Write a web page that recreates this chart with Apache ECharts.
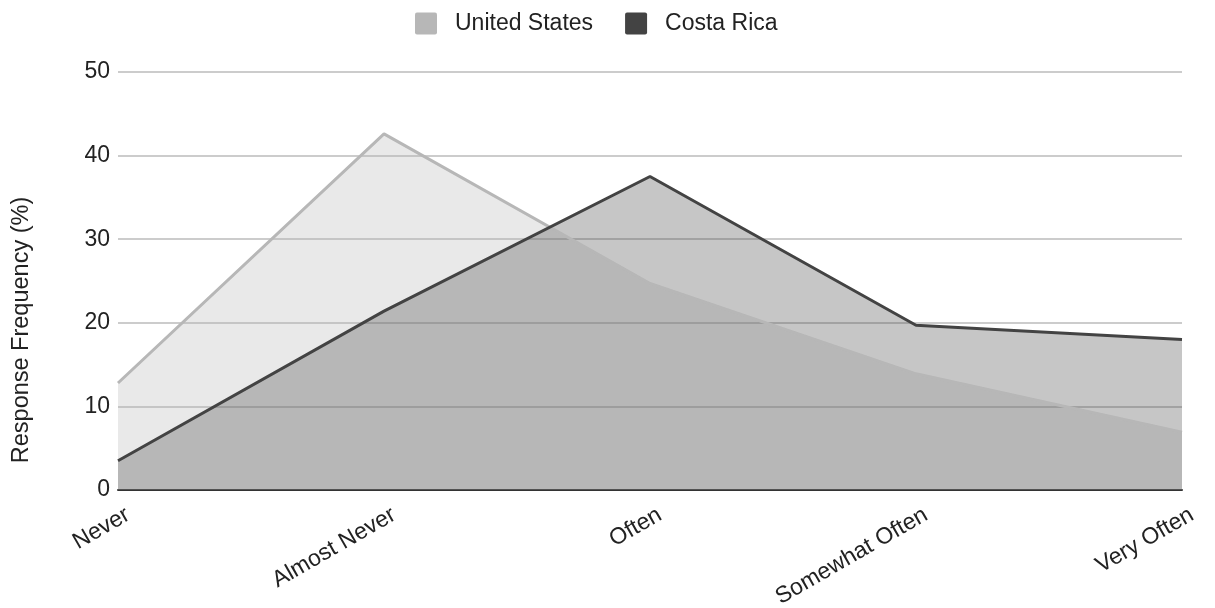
<!DOCTYPE html>
<html>
<head>
<meta charset="utf-8">
<script src="https://cdn.jsdelivr.net/npm/echarts@6/dist/echarts.min.js"></script>
<style>
  html, body { margin: 0; padding: 0; background: #fff; }
  #chart { width: 1215px; height: 608px; }
</style>
</head>
<body>
<div id="chart"></div>
<script>
// Response categories along the x axis
const categories = ['Never', 'Almost Never', 'Often', 'Somewhat Often', 'Very Often'];
// Response frequency (%) per country
const unitedStates = [12.8, 42.6, 24.7, 13.9, 6.9];
const costaRica = [3.5, 21.4, 37.5, 19.7, 18.0];
// Value axis ticks
const yTicks = [0, 10, 20, 30, 40, 50];

const FONT = '"Liberation Sans", Arial, sans-serif';
// Square legend swatch with slightly rounded corners
const SWATCH = 'path://M2,0H20Q22,0 22,2V20Q22,22 20,22H2Q0,22 0,20V2Q0,0 2,0Z';

const chart = echarts.init(document.getElementById('chart'), null, { renderer: 'canvas' });

chart.setOption({
  animation: false,
  textStyle: { fontFamily: FONT },
  legend: {
    top: 12,
    left: 415,
    padding: 0,
    itemWidth: 22,
    itemHeight: 22,
    itemGap: 32,
    icon: SWATCH,
    textStyle: { fontSize: 23, color: '#222', fontFamily: FONT, padding: [0, 0, 0, 13] },
    data: ['United States', 'Costa Rica']
  },
  grid: { left: 118, right: 33, top: 72, bottom: 118, containLabel: false, outerBoundsMode: 'none' },
  xAxis: {
    type: 'category',
    data: categories,
    boundaryGap: false,
    axisLine: { lineStyle: { color: '#333', width: 2 } },
    axisTick: { show: false },
    axisLabel: {
      interval: 0,
      rotate: 30,
      fontSize: 23,
      color: '#222',
      margin: 29,
      padding: [0, -11.5, 0, 0],
      fontFamily: FONT
    }
  },
  yAxis: {
    type: 'value',
    min: yTicks[0],
    max: yTicks[yTicks.length - 1],
    interval: yTicks[1] - yTicks[0],
    name: 'Response Frequency (%)',
    nameLocation: 'middle',
    nameRotate: 90,
    nameGap: 84,
    nameTextStyle: { fontSize: 23.5, color: '#222', fontFamily: FONT, padding: [0, 98, 0, 0] },
    axisLine: { show: false },
    axisTick: { show: false },
    axisLabel: { fontSize: 23, color: '#222', margin: 8, fontFamily: FONT },
    splitLine: { lineStyle: { color: '#cccccc', width: 2 } }
  },
  series: [
    {
      name: 'United States',
      type: 'line',
      data: unitedStates,
      symbol: 'none',
      color: '#b7b7b7',
      lineStyle: { color: '#b7b7b7', width: 3 },
      areaStyle: { color: '#b7b7b7', opacity: 0.3 }
    },
    {
      name: 'Costa Rica',
      type: 'line',
      data: costaRica,
      symbol: 'none',
      color: '#434343',
      lineStyle: { color: '#434343', width: 3 },
      areaStyle: { color: '#434343', opacity: 0.3 }
    }
  ]
});
</script>
</body>
</html>
